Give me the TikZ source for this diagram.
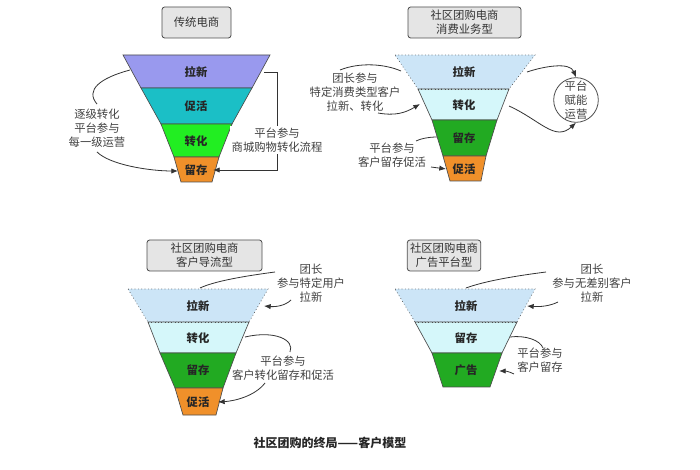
\documentclass[tikz,border=0pt]{standalone}
\usepackage{fontspec}
\setmainfont{Noto Sans CJK SC}
\usetikzlibrary{arrows.meta}
\definecolor{cpurp}{HTML}{9999EE}
\definecolor{cteal}{HTML}{1BBFC6}
\definecolor{cgreen}{HTML}{22EE22}
\definecolor{cdgreen}{HTML}{22AA22}
\definecolor{corange}{HTML}{F0902A}
\definecolor{clblue}{HTML}{CCE5F7}
\definecolor{clcyan}{HTML}{D5F7FA}
\begin{document}
\begin{tikzpicture}[x=0.75pt,y=-0.75pt,
  lay/.style={draw=black!70,line width=0.5pt},
  dlay/.style={draw=black!70,dotted,line width=0.5pt},
  lbl/.style={font=\fontsize{8.5}{10}\selectfont\bfseries,text=black!85},
  txt/.style={font=\fontsize{8.5}{10.5}\selectfont,text=black!75,align=center},
  ttl/.style={draw=black!70,fill=black!10,rounded corners=2pt,line width=0.6pt,font=\fontsize{8.5}{10.5}\selectfont,text=black!80,align=center,inner sep=2pt},
  con/.style={draw=black!80,line width=0.6pt},
  arr/.style={con,-{Latex[length=5pt,width=4pt]}}]
\useasboundingbox (0,0) rectangle (700,470);
% ---------- funnel 1
\node[ttl,minimum width=69*0.75pt,minimum height=31*0.75pt] (t1) at (196.5,22.5) {传统电商};
\fill[cpurp,lay] (123,55)--(270,55)--(252,88)--(141,88)--cycle;
\fill[cteal,lay] (141,88)--(252,88)--(232,124)--(161,124)--cycle;
\fill[cgreen,lay] (161,124)--(232,124)--(219,157)--(174,157)--cycle;
\fill[corange,lay] (174,157)--(219,157)--(212,182)--(181,182)--cycle;
\node[lbl] (a1) at (196,72) {拉新};
\node[lbl] (a2) at (196,106) {促活};
\node[lbl] (a3) at (196,141) {转化};
\node[lbl] (a4) at (196,170) {留存};
\coordinate (a1l) at (130,70);
\coordinate (a1r) at (264,72);
\node[txt] (l1) at (97,128) {逐级转化\\平台参与\\每一级运营};
\draw[con] (a1l) .. controls (100,78) and (85,90) .. (l1.north);
\draw[arr] (l1.south) .. controls (110,165) and (150,171) .. (178,171);
\draw[arr] (a1r) -- (277,72) -- (277,170) -- (213,170);
\node[txt,fill=white,inner sep=1pt] (l2) at (277,140) {平台参与\\商城购物转化流程};
% ---------- funnel 2
\node[ttl,minimum width=113*0.75pt,minimum height=31*0.75pt] (t2) at (464.5,22.5) {社区团购电商\\消费业务型};
\fill[clblue,dlay] (395,55)--(535,55)--(509,89)--(418,89)--cycle;
\fill[clcyan,lay] (418,89)--(509,89)--(497,120)--(432,120)--cycle;
\draw[dlay] (418,89)--(509,89);
\fill[cdgreen,lay] (432,120)--(497,120)--(486,156)--(443,156)--cycle;
\fill[corange,lay] (443,156)--(486,156)--(481,181)--(450,181)--cycle;
\node[lbl] (b1) at (464,72) {拉新};
\node[lbl] (b2) at (464,105) {转化};
\node[lbl] (b3) at (464,138) {留存};
\node[lbl] (b4) at (464,169) {促活};
\node[draw=black!70,circle,line width=0.6pt,minimum size=44*0.75pt,inner sep=0pt,txt] (c2) at (576,100) {平台\\赋能\\运营};
\draw[arr] (527,72) .. controls (545,66) and (570,62) .. (c2.north);
\draw[arr] (509,106) .. controls (540,120) and (555,142) .. (c2.south);
\node[txt] (l3) at (355,92) {团长参与\\特定消费类型客户\\拉新、转化};
\draw[con] (340,70) .. controls (360,62) and (385,64) .. (401,71);
\draw[arr] (378,113) .. controls (395,116) and (405,113) .. (420,104);
\node[txt] (l4) at (392,155) {平台参与\\客户留存促活};
\draw[con] (416,141) .. controls (420,139) and (428,137) .. (437,137);
\draw[arr] (431,167) -- (446,169);
% ---------- funnel 3
\node[ttl,minimum width=115*0.75pt,minimum height=31*0.75pt] (t3) at (204.5,255.5) {社区团购电商\\客户导流型};
\fill[clblue,dlay] (128,289)--(268,289)--(249,322)--(148,322)--cycle;
\fill[clcyan,lay] (148,322)--(249,322)--(236,353)--(160,353)--cycle;
\draw[dlay] (148,322)--(249,322);
\fill[cdgreen,lay] (160,353)--(236,353)--(223,388)--(175,388)--cycle;
\fill[corange,lay] (175,388)--(223,388)--(216,415)--(183,415)--cycle;
\node[lbl] (d1) at (198,306) {拉新};
\node[lbl] (d2) at (198,338) {转化};
\node[lbl] (d3) at (198,370) {留存};
\node[lbl] (d4) at (198,402) {促活};
\node[txt] (l5) at (311,283) {团长\\参与特定用户\\拉新};
\draw[con] (275,272) .. controls (245,276) and (215,281) .. (200,288);
\draw[arr] (291,300) .. controls (285,306) and (275,307) .. (264,306);
\node[txt] (l6) at (283,368) {平台参与\\客户转化留存和促活};
\draw[con] (245,337) .. controls (275,330) and (295,340) .. (290,352);
\draw[arr] (265,383) .. controls (255,396) and (235,401) .. (218,402);
% ---------- funnel 4
\node[ttl,minimum width=69*0.75pt,minimum height=31*0.75pt] (t4) at (444,255.5) {社区团购电商\\广告平台型};
\fill[clblue,dlay] (395,289)--(535,289)--(517,322)--(415,322)--cycle;
\fill[clcyan,lay] (415,322)--(517,322)--(502,353)--(432,353)--cycle;
\draw[dlay] (415,322)--(517,322);
\fill[cdgreen,lay] (432,353)--(502,353)--(490,387)--(443,387)--cycle;
\node[lbl] (e1) at (466,306) {拉新};
\node[lbl] (e2) at (466,338) {留存};
\node[lbl] (e3) at (466,370) {广告};
\node[txt] (l7) at (592,283) {团长\\参与无差别客户\\拉新};
\draw[con] (546,272) .. controls (515,276) and (485,281) .. (466,288);
\draw[arr] (558,302) .. controls (550,306) and (540,307) .. (527,306);
\node[txt] (l8) at (540,360) {平台参与\\客户留存};
\draw[con] (510,337) .. controls (525,335) and (540,340) .. (543,348);
\draw[arr] (514,374) .. controls (510,372) and (506,371) .. (499,371);
% ---------- title
\node[font=\fontsize{9}{11}\selectfont\bfseries,text=black!85] (main) at (330,443) {社区团购的终局——客户模型};
\end{tikzpicture}
\end{document}
